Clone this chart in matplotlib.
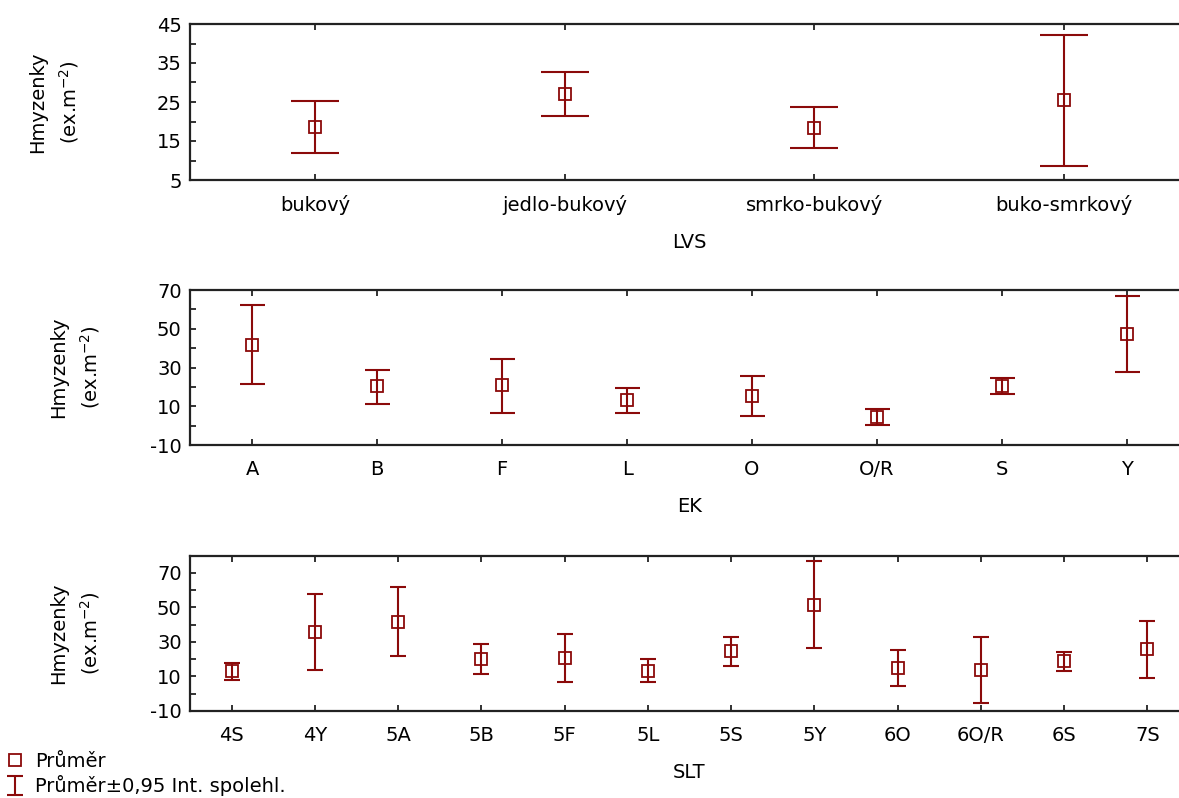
import matplotlib
matplotlib.use("Agg")
import matplotlib.pyplot as plt
import numpy as np

plt.rcParams['font.family'] = ['DejaVu Sans']
plt.rcParams['font.size'] = 14
plt.rcParams['mathtext.fontset'] = 'dejavusans'
plt.rcParams['axes.unicode_minus'] = False

# ---- data ----
lvs_cats = ["bukový", "jedlo-bukový", "smrko-bukový", "buko-smrkový"]
lvs_mean = [18.6, 27.1, 18.4, 25.4]
lvs_low = [12.0, 21.5, 13.3, 8.7]
lvs_high = [25.3, 32.7, 23.6, 42.2]

ek_cats = ["A", "B", "F", "L", "O", "O/R", "S", "Y"]
ek_mean = [41.8, 20.3, 21.0, 13.4, 15.3, 4.6, 20.6, 47.4]
ek_low = [21.5, 11.3, 6.7, 6.7, 4.8, 0.3, 16.5, 27.7]
ek_high = [62.4, 28.7, 34.5, 19.6, 25.5, 8.7, 24.7, 67.1]

slt_cats = ["4S", "4Y", "5A", "5B", "5F", "5L", "5S", "5Y", "6O", "6O/R", "6S", "7S"]
slt_mean = [13.2, 35.8, 41.8, 20.3, 20.9, 13.4, 24.8, 51.6, 15.1, 13.9, 18.8, 25.7]
slt_low = [8.1, 13.8, 21.7, 11.6, 7.0, 6.8, 16.3, 26.3, 4.7, -5.2, 13.2, 8.9]
slt_high = [18.0, 57.8, 61.9, 28.8, 34.6, 20.0, 33.1, 76.7, 25.5, 32.7, 24.2, 42.3]

ylabel_line1 = "Hmyzenky"
ylabel_line2 = "(ex.m$^{-2}$)"
legend_labels = ["Průměr", "Průměr±0,95 Int. spolehl."]

RED = "#8B0A0A"
SPINE = "#222222"

W, H = 1179, 798
fig = plt.figure(figsize=(W / 100, H / 100), dpi=100)


def px_axes(left, top, right, bottom):
    return fig.add_axes([left / W, 1 - bottom / H, (right - left) / W, (bottom - top) / H])


panels = [
    dict(cats=lvs_cats, mean=lvs_mean, low=lvs_low, high=lvs_high, xlabel="LVS",
         box=(190, 24, 1189, 180), ylim=(5, 45), major=np.arange(5, 46, 10), minor=np.arange(10, 41, 10),
         cap=17.5, lab=(38, 69)),
    dict(cats=ek_cats, mean=ek_mean, low=ek_low, high=ek_high, xlabel="EK",
         box=(190, 290, 1189, 445), ylim=(-10, 70), major=np.arange(-10, 71, 20), minor=np.arange(0, 61, 20),
         cap=9, lab=(59, 90)),
    dict(cats=slt_cats, mean=slt_mean, low=slt_low, high=slt_high, xlabel="SLT",
         box=(190, 555.7, 1189, 711), ylim=(-10, 80), major=np.arange(-10, 71, 20), minor=np.arange(0, 81, 20),
         cap=6, lab=(59, 90)),
]

handles = None
for p in panels:
    ax = px_axes(*p['box'])
    n = len(p['cats'])
    x = np.arange(n)
    mean = np.array(p['mean'])
    low = np.array(p['low'])
    high = np.array(p['high'])
    eb = ax.errorbar(x, mean, yerr=[mean - low, high - mean], fmt='none', ecolor=RED,
                     elinewidth=1.5, capsize=p['cap'], capthick=1.5, zorder=2)
    mk, = ax.plot(x, mean, linestyle='none', marker='s', markersize=8, markerfacecolor='none',
                  markeredgecolor=RED, markeredgewidth=1.3, zorder=3)
    handles = [mk, eb]
    ax.set_xlim(-0.5, n - 0.5)
    ax.set_ylim(*p['ylim'])
    ax.set_xticks(x)
    ax.set_xticklabels(p['cats'])
    ax.set_yticks(p['major'])
    ax.set_yticks(p['minor'], minor=True)
    ax.tick_params(axis='x', which='both', direction='in', length=4, width=1.3, color=SPINE,
                   top=True, bottom=True, pad=11, labelsize=14)
    ax.tick_params(axis='y', which='both', direction='in', length=4, width=1.3, color=SPINE,
                   left=True, right=False, pad=6, labelsize=14)
    for s in ['left', 'top', 'bottom']:
        ax.spines[s].set_linewidth(1.6)
        ax.spines[s].set_color(SPINE)
    ax.spines['right'].set_visible(False)
    ax.set_xlabel(p['xlabel'], fontsize=14, labelpad=13)
    top, bottom = p['box'][1], p['box'][3]
    yc = 1 - ((top + bottom) / 2) / H
    fig.text(p['lab'][0] / W, yc, ylabel_line1, rotation=90, ha='center', va='center', fontsize=14)
    fig.text(p['lab'][1] / W, yc, ylabel_line2, rotation=90, ha='center', va='center', fontsize=14)

fig.legend(handles=handles, labels=legend_labels, loc='lower left', bbox_to_anchor=(0.003, 0.0),
           frameon=False, fontsize=14, handlelength=1.0, handletextpad=0.5, borderpad=0.1,
           borderaxespad=0.0, labelspacing=0.2)

fig.savefig("out.png", dpi=100)
